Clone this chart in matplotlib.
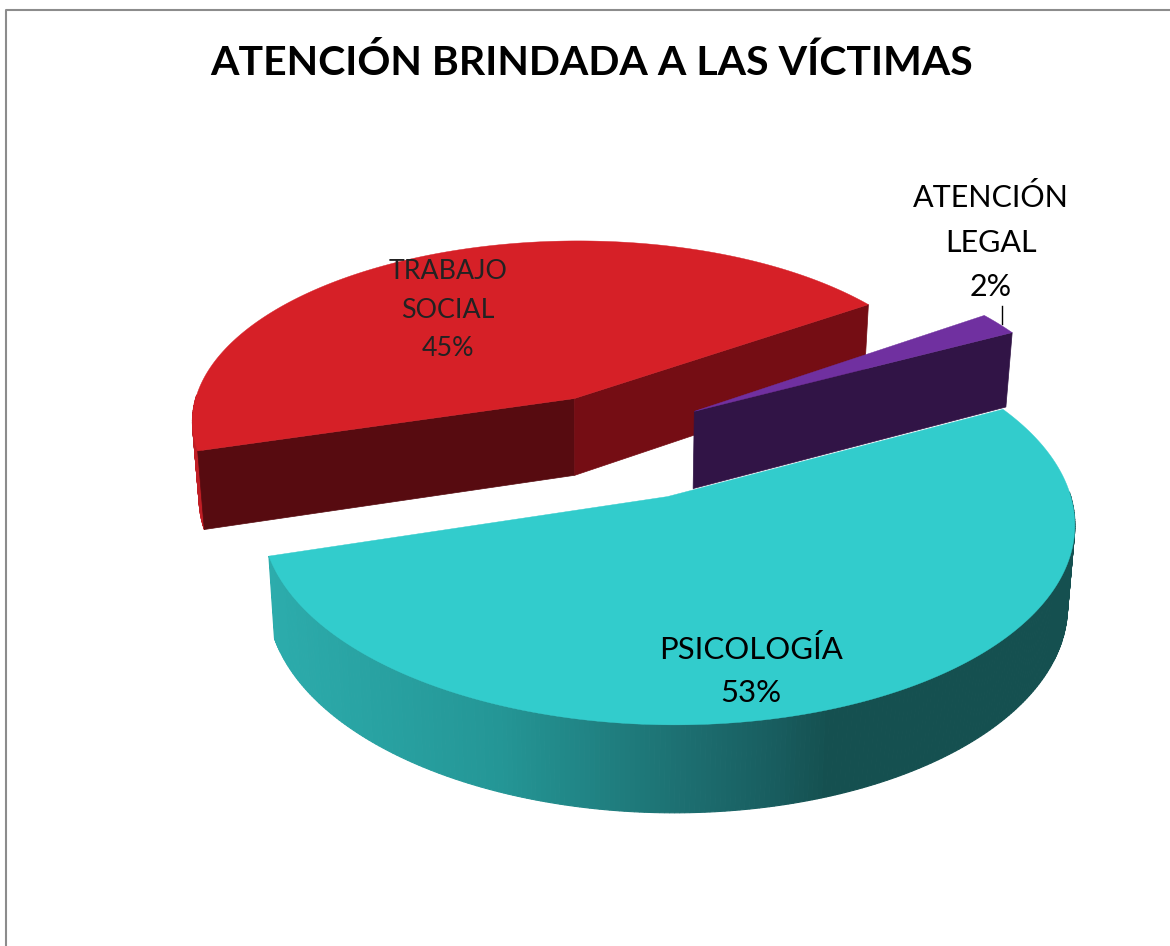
import numpy as np
import matplotlib
matplotlib.use("Agg")
import matplotlib.pyplot as plt
from matplotlib.patches import Polygon

title = "ATENCIÓN BRINDADA A LAS VÍCTIMAS"
categories = ["PSICOLOGÍA", "TRABAJO\nSOCIAL", "ATENCIÓN\nLEGAL"]
values = [53, 45, 2]
explode = [0.34, 0.23, 0.23]

# look of each slice
top_colors = ["#32CCCC", "#D62027", "#7030A0"]
wall_first = ["#134A4C", "#570B10", "#311446"]  # radial wall at the start of the slice
wall_last = ["#134A4C", "#750D14", "#311446"]  # radial wall at the end of the slice
nudge_x = [-1, -5, 2]
nudge_y = [2, 2, -1]

# projection of the tilted pie, in pixels
cx, cy = 617, 434
rx, ry = 388, 185
persp = 0.12
depth = 78
shrink = 0.984
start_angle = -27.5

shade_x = [270, 500, 700, 780, 830, 1075]
shade_r = [44, 36, 28, 24, 21, 21]
shade_g = [172, 150, 108, 92, 80, 80]
shade_b = [172, 150, 110, 94, 80, 80]


def project(u, v, low=False):
    s = 1 / (1 - persp * v)
    x = rx * u * s
    y = ry * v * s
    if low:
        return cx + x * shrink, cy + y + depth * s ** 0.7
    return cx + x, cy + y


def slice_angles():
    total = sum(values)
    a = start_angle
    out = []
    for val in values:
        out.append((a, a + val / total * 360))
        a += val / total * 360
    return out


def world(t, off):
    return off[0] + np.cos(np.radians(t)), off[1] + np.sin(np.radians(t))


def wall_color(i, x):
    if i == 1:
        return "#C01E25"
    if i == 2:
        return "#311446"
    return (np.interp(x, shade_x, shade_r) / 255, np.interp(x, shade_x, shade_g) / 255,
            np.interp(x, shade_x, shade_b) / 255)


def draw_slice(ax, i, a0, a1, z):
    mid = np.radians((a0 + a1) / 2)
    off = (explode[i] * np.cos(mid), explode[i] * np.sin(mid))
    ts = np.linspace(a0, a1, 300)
    u, v = world(ts, off)
    dx, dy = nudge_x[i], nudge_y[i]

    # curved outer wall, strips so the shading can run along it
    for j in range(len(ts) - 1):
        if np.sin(np.radians((ts[j] + ts[j + 1]) / 2)) < -0.02:
            continue
        xa, ya = project(u[j], v[j])
        xb, yb = project(u[j + 1], v[j + 1])
        xc, yc = project(u[j + 1], v[j + 1], True)
        xd, yd = project(u[j], v[j], True)
        col = wall_color(i, (xa + xb) / 2)
        quad = np.array([(xa, ya), (xb, yb), (xc, yc), (xd, yd)]) + (dx, dy)
        ax.add_patch(Polygon(quad, closed=True, fc=col, ec=col, lw=0.8, zorder=z))

    # radial walls, only the ones that face us
    for t, col, sign in ((a0, wall_first[i], -1), (a1, wall_last[i], 1)):
        if sign * np.cos(np.radians(t)) <= 0:
            continue
        ue, ve = world(t, off)
        pts = np.array([project(off[0], off[1]), project(ue, ve),
                        project(ue, ve, True), project(off[0], off[1], True)]) + (dx, dy)
        ax.add_patch(Polygon(pts, closed=True, fc=col, ec=col, lw=0.5, zorder=z + 0.1))

    # top face
    xs, ys = project(u, v)
    ox, oy = project(off[0], off[1])
    top = np.column_stack([np.r_[ox, xs] + dx, np.r_[oy, ys] + dy])
    ax.add_patch(Polygon(top, closed=True, fc=top_colors[i], ec=top_colors[i], lw=0.3, zorder=z + 0.2))


fig = plt.figure(figsize=(11.7, 9.46), dpi=100)
ax = fig.add_axes([0, 0, 1, 1])
ax.set_xlim(0, 1170)
ax.set_ylim(946, 0)
ax.axis("off")

# only the left and top of the chart frame are in the crop
ax.plot([6, 6, 1170], [946, 10, 10], color="#8C8C8C", lw=1.5, zorder=1)

angles = slice_angles()
draw_slice(ax, 1, *angles[1], 2)
draw_slice(ax, 2, *angles[2], 3)
draw_slice(ax, 0, *angles[0], 4)

font = "Lato"
ax.text(592, 63, title, ha="center", va="center", fontsize=29.5, fontweight="bold", family=font)
ax.text(751, 671, f"{categories[0]}\n{values[0]}%", ha="center", va="center", fontsize=22.4,
        family=font, linespacing=1.63, zorder=5)
ax.text(448, 310, f"{categories[1]}\n{values[1]}%", ha="center", va="center", fontsize=19.3,
        family=font, linespacing=1.66, color="#222222", zorder=5)
ax.text(991, 242, f"{categories[2]}\n{values[2]}%", ha="center", va="center", fontsize=22,
        family=font, linespacing=1.7, zorder=5)
ax.plot([1002, 1002], [306, 324], color="black", lw=1, zorder=2)

plt.savefig("out.png", dpi=100)
